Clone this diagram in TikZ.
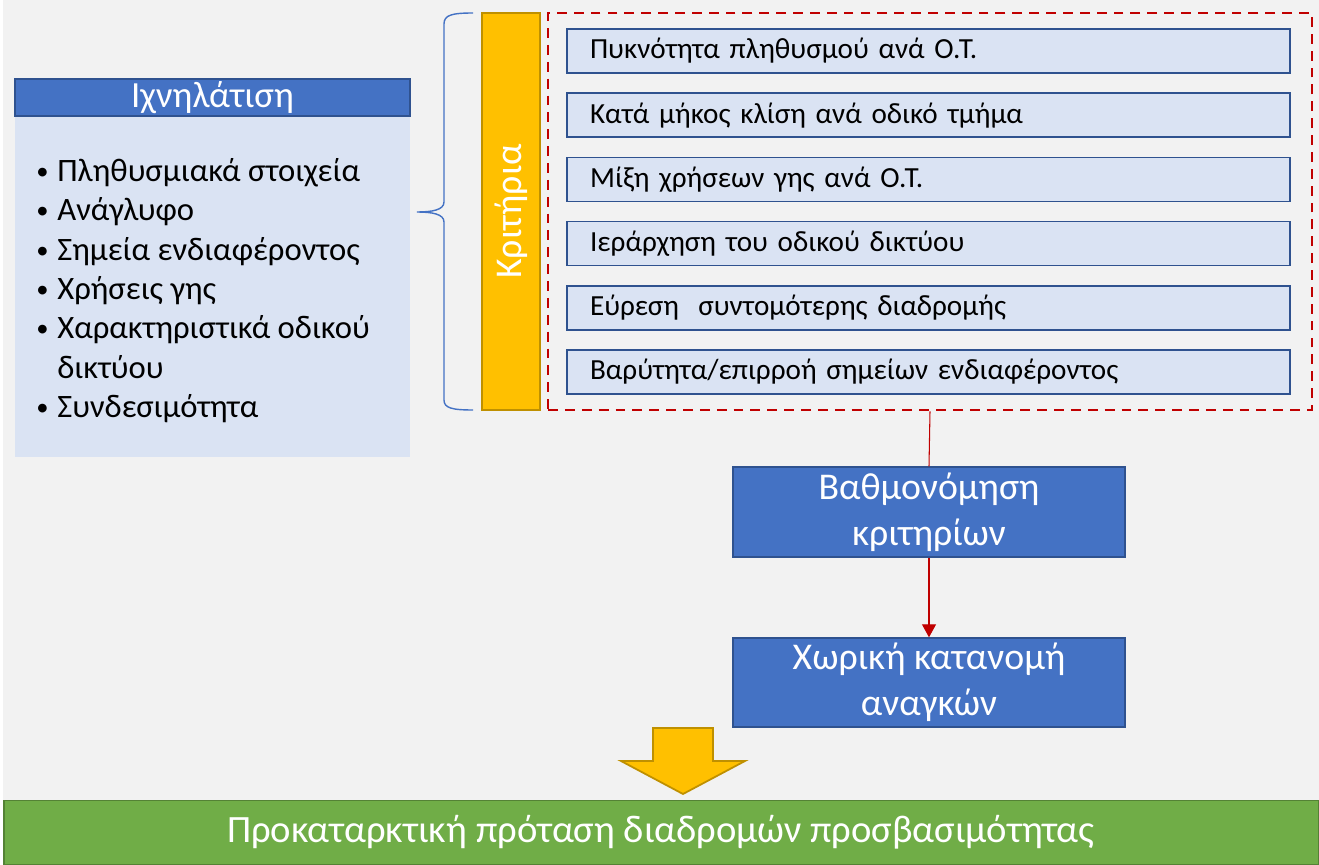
\documentclass[tikz,border=0pt]{standalone}
\usepackage{fontspec}
\setmainfont{Carlito}
\usetikzlibrary{arrows.meta}

\definecolor{bgGray}{HTML}{F2F2F2}
\definecolor{midBlue}{HTML}{4472C4}
\definecolor{darkBlue}{HTML}{2F528F}
\definecolor{paleBlue}{HTML}{DAE3F3}
\definecolor{gold}{HTML}{FFC000}
\definecolor{goldDark}{HTML}{BF9000}
\definecolor{darkRed}{HTML}{C00000}
\definecolor{leafGreen}{HTML}{70AD47}
\definecolor{greenDark}{HTML}{548235}

\newcommand{\bitem}[1]{\makebox[0.42cm][l]{\raisebox{0.06em}{\fontsize{14}{14}\selectfont•}}#1}

\begin{document}
\begin{tikzpicture}[
		x=0.02cm, y=-0.02cm,
		>={Triangle[length=0.26cm,width=0.28cm]},
		bluebox/.style={
			rectangle,
			draw=darkBlue,
			line width=0.8pt,
			fill=midBlue,
			text=white,
			align=center,
			inner sep=0pt,
			font=\fontsize{21.5}{26}\selectfont
		},
		critbox/.style={
			rectangle,
			draw=darkBlue,
			line width=1pt,
			fill=paleBlue,
			minimum width=14.46cm,
			minimum height=0.88cm,
			text width=13.54cm,
			inner xsep=0.46cm,
			inner ysep=0pt,
			align=left,
			font=\fontsize{16.6}{19}\selectfont
		},
		redline/.style={
			darkRed,
			line width=0.6pt
		}
		]
		\useasboundingbox (0,0) rectangle (1319,865);
		\fill[bgGray] (3,0) rectangle (1319,800);
		
		% left panel
		\node[rectangle,
			  fill=paleBlue,
			  minimum width=7.9cm,
			  minimum height=6.82cm,
			  inner sep=0pt] (trace) at (212.5,286.5) {};
		\node[bluebox,
			  minimum width=7.9cm,
			  minimum height=0.74cm,
			  font=\fontsize{21}{24}\selectfont] (traceHead) at (212.5,97.5) {\raisebox{-0.12em}{Ιχνηλάτιση}};
		\node[anchor=north west,
			  align=left,
			  inner sep=0pt,
			  font=\fontsize{18.6}{22.4}\selectfont] (traceList) at (36,158) {\bitem{Πληθυσμιακά στοιχεία}\\
			  \bitem{Ανάγλυφο}\\
			  \bitem{Σημεία ενδιαφέροντος}\\
			  \bitem{Χρήσεις γης}\\
			  \bitem{Χαρακτηριστικά οδικού}\\
			  \hspace*{0.42cm}δικτύου\\
			  \bitem{Συνδεσιμότητα}};
		
		% criteria bar and brace
		\node[rectangle,
			  draw=goldDark,
			  line width=1pt,
			  fill=gold,
			  rotate=90,
			  minimum width=7.94cm,
			  minimum height=1.16cm,
			  text=white,
			  font=\fontsize{21.5}{24}\selectfont] (kriteria) at (511,211.5) {Κριτήρια};
		\coordinate (braceTop) at (473,13);
		\coordinate (braceTip) at (417,212);
		\coordinate (braceBot) at (473,410);
		\draw[midBlue, line width=0.8pt]
			(braceTop) .. controls (452,13) and (444,15) .. (444,24) -- (444,202)
			.. controls (444,210) and (432,212) .. (braceTip)
			.. controls (432,212) and (444,214) .. (444,222) -- (444,400)
			.. controls (444,408) and (452,410) .. (braceBot);
		
		% criteria list
		\foreach \txt [count=\i] in {Πυκνότητα πληθυσμού ανά Ο.Τ.,
			Κατά μήκος κλίση ανά οδικό τμήμα,
			Μίξη χρήσεων γης ανά Ο.Τ.,
			Ιεράρχηση του οδικού δικτύου,
			Εύρεση\ \ συντομότερης διαδρομής,
			{Βαρύτητα/επιρροή σημείων ενδιαφέροντος}}
			\node[critbox] (c\i) at (928.5,{51+64.2*(\i-1)}) {\txt};
		\node[rectangle,
			  draw=darkRed,
			  line width=1.5pt,
			  dash pattern=on 5.6pt off 4pt,
			  minimum width=15.28cm,
			  minimum height=7.94cm] (critframe) at (930,211.5) {};
		
		% steps
		\node[bluebox, minimum width=7.84cm, minimum height=1.8cm] (ranking) at (929,512) {Βαθμονόμηση\\κριτηρίων};
		\node[bluebox, minimum width=7.84cm, minimum height=1.78cm] (spatial) at (929,682.5) {Χωρική κατανομή\\αναγκών};
		
		\draw[redline] (critframe.south) -- (ranking.north);
		\draw[redline,->] (ranking.south) -- (spatial.north);
		
		% block arrow
		\draw[goldDark, line width=1pt, fill=gold, line join=miter]
			(653,728) -- (713,728) -- (713,761) -- (745,761) -- (683,794) -- (621,761) -- (653,761) -- cycle;
		
		\node[rectangle,
			  draw=greenDark,
			  line width=1pt,
			  fill=leafGreen,
			  minimum width=26.3cm,
			  minimum height=1.28cm,
			  text=white,
			  font=\fontsize{22}{26}\selectfont] (result) at (661,832.5) {Προκαταρκτική πρόταση διαδρομών προσβασιμότητας};
		\end{tikzpicture}
\end{document}
